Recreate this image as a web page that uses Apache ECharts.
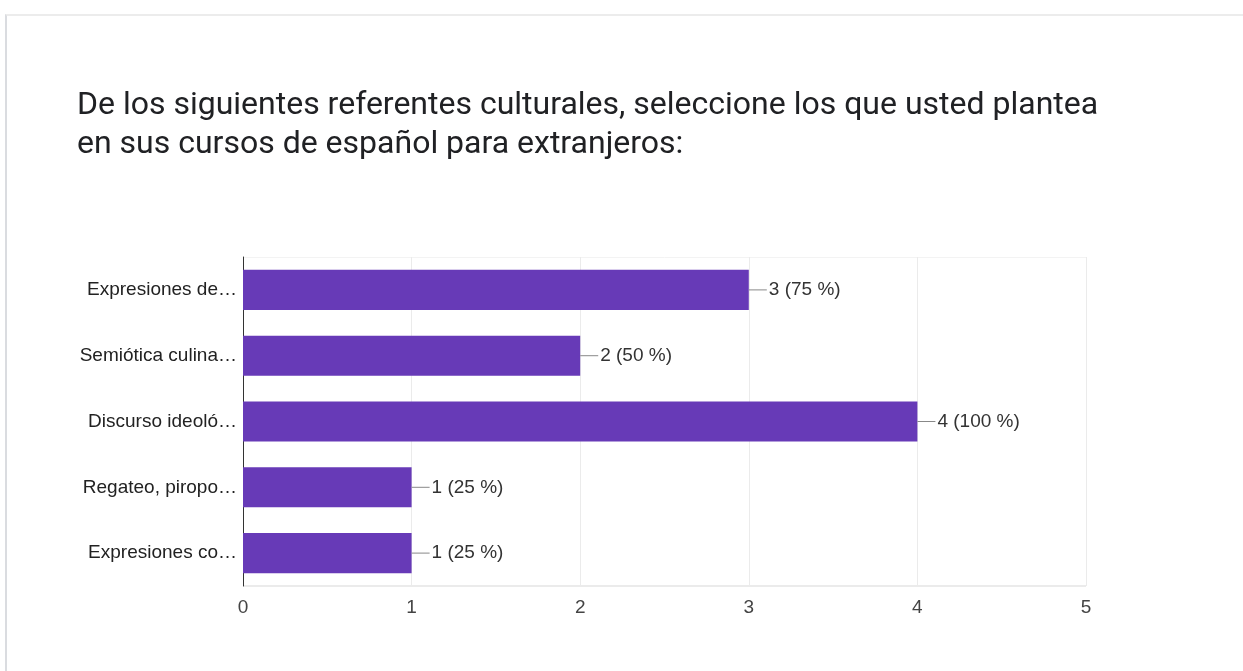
<!DOCTYPE html>
<html><head><meta charset="utf-8">
<script src="https://cdn.jsdelivr.net/npm/echarts@6/dist/echarts.min.js"></script>
<style>
html,body{margin:0;padding:0;background:#fff;}
#frame{position:absolute;left:5px;top:14px;width:1238px;height:657px;border-left:2px solid #dadce0;border-top:2px solid #ececec;box-sizing:border-box;}
#c{position:absolute;left:0;top:0;width:1243px;height:671px;}
</style></head>
<body>
<div id="frame"></div>
<div id="c"></div>
<script>
var categories = ['Expresiones de…', 'Semiótica culina…', 'Discurso ideoló…', 'Regateo, piropo…', 'Expresiones co…'];
var counts = [3, 2, 4, 1, 1];
var percents = [75, 50, 100, 25, 25];
var xTicks = [0, 1, 2, 3, 4, 5];

var FONT = '"Liberation Sans", Arial, sans-serif';
var chart = echarts.init(document.getElementById('c'));
chart.setOption({
  animation: false,
  title: {
    text: 'De los siguientes referentes culturales, seleccione los que usted plantea\nen sus cursos de español para extranjeros:',
    left: 72, top: 81,
    textStyle: {fontFamily: 'Roboto', fontSize: 32, fontWeight: 'normal', color: '#202124', lineHeight: 39}
  },
  grid: {left: 243, right: 157, top: 257, bottom: 85, containLabel: false},
  xAxis: {
    type: 'value', min: 0, max: 5, interval: 1,
    axisLine: {show: false}, axisTick: {show: false},
    splitLine: {show: true, lineStyle: {color: '#ebebeb', width: 1}},
    axisLabel: {fontFamily: FONT, fontSize: 19, color: '#444', margin: 12,
      formatter: function(v){ return xTicks.indexOf(v) >= 0 ? String(v) : ''; }}
  },
  yAxis: {
    type: 'category', data: categories, inverse: true,
    axisLine: {show: true, lineStyle: {color: '#333', width: 1}},
    axisTick: {show: false},
    splitLine: {show: false},
    axisLabel: {fontFamily: FONT, fontSize: 19, color: '#222', margin: 6}
  },
  series: [{
    type: 'bar',
    data: counts,
    barWidth: '61%',
    itemStyle: {color: '#673ab7'},
    label: {
      show: true, position: 'right', distance: 0,
      formatter: function(p){ return '{l|}{t|' + counts[p.dataIndex] + ' (' + percents[p.dataIndex] + ' %)}'; },
      rich: {
        l: {width: 18, height: 1, backgroundColor: '#888'},
        t: {fontFamily: FONT, fontSize: 19, color: '#333', padding: [0, 0, 0, 2]}
      }
    }
  }],
  graphic: [{
    type: 'line', shape: {x1: 243, y1: 586, x2: 1086, y2: 586},
    style: {stroke: '#ebebeb', lineWidth: 2}, z: -1
  }, {
    type: 'line', shape: {x1: 243, y1: 257.5, x2: 1086, y2: 257.5},
    style: {stroke: '#f3f3f3', lineWidth: 1}, z: -1
  }]
});
</script>
</body></html>
